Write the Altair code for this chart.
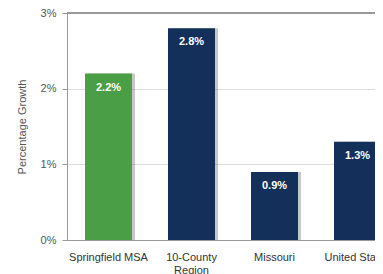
import altair as alt
import pandas as pd

categories = ["Springfield MSA", "10-County Region", "Missouri", "United States"]
values = [2.2, 2.8, 0.9, 1.3]
labels = ["2.2%", "2.8%", "0.9%", "1.3%"]
groups = ["msa", "other", "other", "other"]

df = pd.DataFrame({"cat": categories, "val": values, "lab": labels, "grp": groups})

x = alt.X("cat:N", sort=categories, title=None,
          scale=alt.Scale(paddingInner=0.434, paddingOuter=0.217, range=[0, 332]),
          axis=alt.Axis(labelAngle=0, ticks=False, domainColor="#999999", domainWidth=1,
                        labelColor="#333333", labelFontSize=11, labelPadding=11,
                        labelFont="Liberation Sans",
                        labelExpr="datum.label == '10-County Region' ? ['10-County', 'Region'] : datum.label"))
y = alt.Y("val:Q", title="Percentage Growth",
          scale=alt.Scale(domain=[0, 3], nice=False),
          axis=alt.Axis(values=[0, 1, 2, 3], labelExpr="datum.value + '%'",
                        tickSize=5, tickColor="#999999", domainColor="#999999",
                        gridColor="#dddddd", labelColor="#555555", labelFontSize=11,
                        labelPadding=6, labelFont="Liberation Sans",
                        titleFont="Liberation Sans", titleFontSize=11, titleFontWeight="normal",
                        titleColor="#555555", titlePadding=13))

base = alt.Chart(df)

shadow = base.mark_bar(color="#444444", opacity=0.3, xOffset=3).encode(x=x, y=y)

bars = base.mark_bar().encode(
    x=x, y=y,
    color=alt.Color("grp:N", scale=alt.Scale(domain=["msa", "other"], range=["#4a9e45", "#12305a"]), legend=None),
)

text = base.mark_text(color="white", fontWeight="bold", fontSize=11, baseline="top", dy=8,
                      font="Liberation Sans").encode(x=x, y=y, text="lab:N")

top_line = alt.Chart(pd.DataFrame({"v": [3]})).mark_rule(color="#999999", strokeWidth=2).encode(
    y=alt.Y("v:Q", scale=alt.Scale(domain=[0, 3], nice=False))
)

chart = alt.layer(shadow, bars, text, top_line).properties(
    width=308, height=227,
    autosize=alt.AutoSizeParams(type="none"),
    padding={"left": 59, "top": 5, "right": 0, "bottom": 34},
).configure_view(stroke=None)

chart.save("out.html", embed_options={"renderer": "svg", "actions": False})
